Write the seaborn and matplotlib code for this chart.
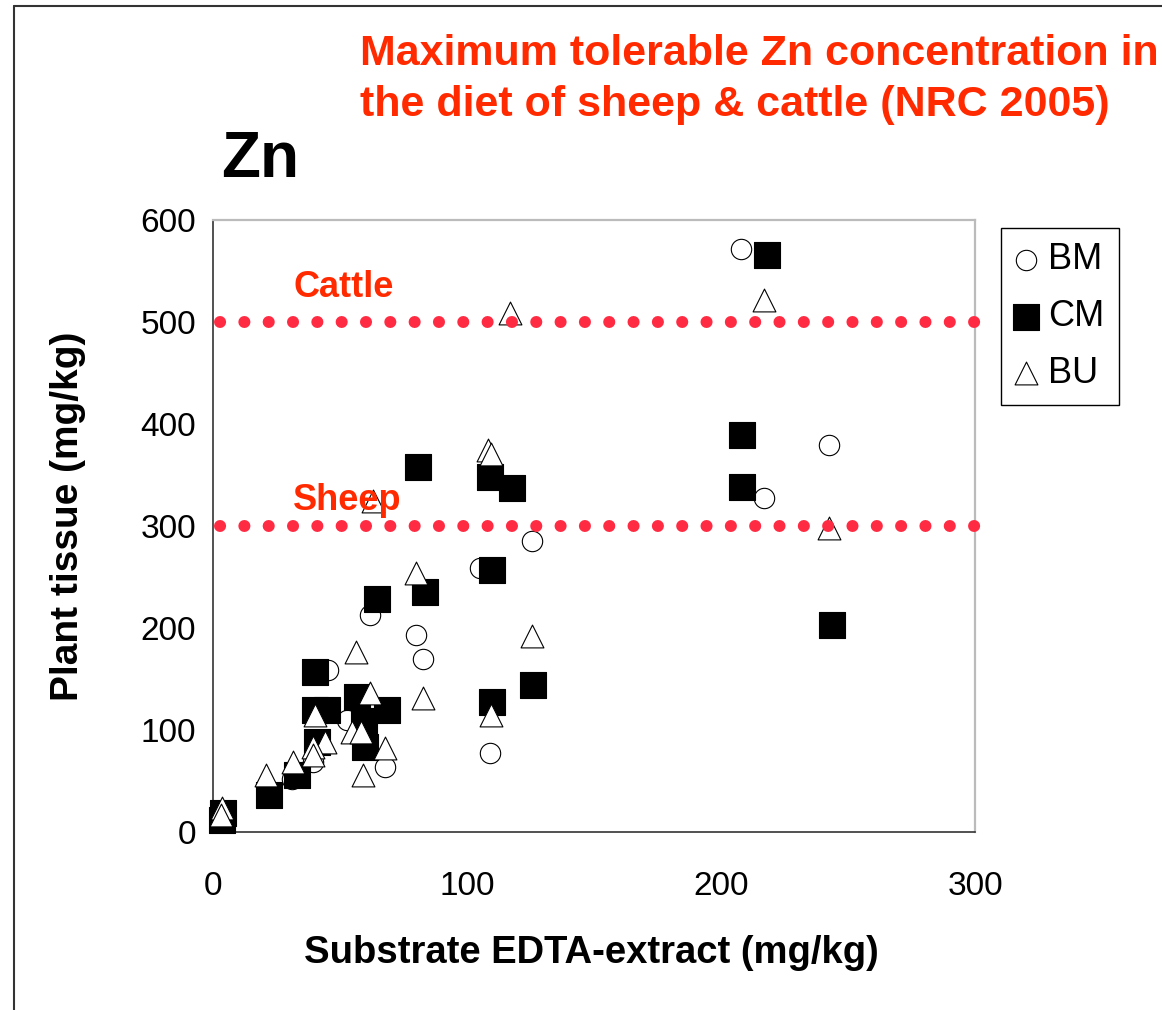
import matplotlib
matplotlib.use("Agg")
import matplotlib.pyplot as plt
import seaborn as sns
import pandas as pd
from matplotlib.lines import Line2D

# ---------------- data ----------------
bm_x = [207.8, 217, 242.6, 125.5, 105, 62, 80, 82.8, 45.4, 52.9, 109, 67.7, 39.5, 31]
bm_y = [572, 327, 379, 285, 259, 213, 193, 170, 159, 110, 77, 64, 69, 52]

cm_x = [218, 208.4, 208.4, 243.6, 80.9, 109, 117.8, 110, 64.6, 83.5, 40.2, 126, 110,
        56.6, 68.7, 59.4, 60, 40.2, 45, 40.8, 33, 22, 3.9, 3.5]
cm_y = [566, 389, 338.5, 203, 358, 348, 337, 257, 228, 235, 157, 144, 127,
        132, 120, 109, 83, 120, 120, 88.5, 56, 36, 19, 12]

bu_x = [217, 117, 108.4, 109.3, 63, 242.6, 80, 125.5, 56.3, 61.8, 82.8, 109.3, 40.2,
        54.6, 58.1, 44, 39.5, 39.5, 67.7, 59, 31.6, 21, 3.5, 3]
bu_y = [521.6, 509, 374.5, 371, 325, 298, 254, 192, 176, 136, 131, 115, 115,
        98, 98, 88.5, 83.6, 75.5, 82, 56, 69, 56, 24, 17]

limit_names = ["Cattle", "Sheep"]
limit_values = [500, 300]
limit_x = [2.7, 300]

x_ticks = [0, 100, 200, 300]
y_ticks = [0, 100, 200, 300, 400, 500, 600]

title_lines = ["Maximum tolerable Zn concentration in",
               "the diet of sheep & cattle (NRC 2005)"]

# ---------------- style ----------------
sns.set_style("white")
plt.rcParams["font.family"] = ["Liberation Sans", "DejaVu Sans"]
plt.rcParams["text.color"] = "black"
plt.rcParams["axes.labelcolor"] = "black"
plt.rcParams["xtick.color"] = "black"
plt.rcParams["ytick.color"] = "black"

RED_TXT = "#FF2A00"
RED_DOT = "#FF2B42"

W, H = 1162, 1010
fig = plt.figure(figsize=(W / 100, H / 100), dpi=100)
ax = fig.add_axes([213 / W, 1 - 832 / H, 762 / W, 612 / H])

series = [
    ("BM", bm_x, bm_y, "o", 215, "white"),
    ("CM", cm_x, cm_y, "s", 330, "black"),
    ("BU", bu_x, bu_y, "^", 270, "white"),
]
for i, (name, xs, ys, mk, sz, fc) in enumerate(series):
    df = pd.DataFrame({"x": xs, "y": ys})
    sns.scatterplot(data=df, x="x", y="y", marker=mk, s=sz, color=fc,
                    edgecolor="black", linewidth=0.8, label=name, ax=ax,
                    zorder=3 + i, clip_on=False)

# dotted limit lines
for name, val in zip(limit_names, limit_values):
    ax.plot(limit_x, [val, val], color=RED_DOT, lw=8.64,
            linestyle=(0, (0.01, 2.017)), dash_capstyle="round",
            zorder=8, clip_on=False)

ax.text(31.5, 524.8, "Cattle", color=RED_TXT, fontsize=26, fontweight="bold",
        ha="left", va="baseline", zorder=9)
ax.text(31.5, 315.7, "Sheep", color=RED_TXT, fontsize=26, fontweight="bold",
        ha="left", va="baseline", zorder=9)

ax.set_xlim(0, 300)
ax.set_ylim(0, 600)
ax.set_xticks(x_ticks)
ax.set_yticks(y_ticks)
ax.set_xticklabels([str(t) for t in x_ticks])
ax.set_yticklabels([str(t) for t in y_ticks])
ax.tick_params(axis="both", direction="out", length=8, width=1, color="#333333",
               labelsize=24, labelcolor="black")
ax.tick_params(axis="x", pad=20)
ax.tick_params(axis="y", pad=4)

for side in ["left", "bottom"]:
    ax.spines[side].set_color("#333333")
    ax.spines[side].set_linewidth(1.2)
for side in ["top", "right"]:
    ax.spines[side].set_color("#BBBBBB")
    ax.spines[side].set_linewidth(1.6)

ax.set_xlabel("Substrate EDTA-extract (mg/kg)", fontsize=27.5, fontweight="bold",
              va="center", color="black")
ax.xaxis.set_label_coords(0.496, -0.198)
ax.set_ylabel("Plant tissue (mg/kg)", fontsize=28, fontweight="bold", va="center",
              color="black")
ax.yaxis.set_label_coords(-0.19, 0.516)

leg = ax.legend(loc="upper left", bbox_to_anchor=((1001 - 213) / 762, (832 - 228) / 612),
                borderaxespad=0, fontsize=26, frameon=True, fancybox=False,
                framealpha=1, edgecolor="black", borderpad=0.4, labelspacing=0.6,
                handlelength=0.6, handletextpad=0.3, scatterpoints=1)
leg.get_frame().set_linewidth(1.0)
for t in leg.get_texts():
    t.set_color("black")

# titles
fig.text(360 / W, 1 - 65 / H, title_lines[0], color=RED_TXT, fontsize=31,
         fontweight="bold", ha="left", va="baseline")
fig.text(360 / W, 1 - 116 / H, title_lines[1], color=RED_TXT, fontsize=31,
         fontweight="bold", ha="left", va="baseline")
fig.text(221 / W, 1 - 177 / H, "Zn", color="black", fontsize=46,
         fontweight="bold", ha="left", va="baseline")

# slide border
fig.add_artist(Line2D([14 / W, 1.0], [1 - 6 / H, 1 - 6 / H], color="#333333", lw=1.5))
fig.add_artist(Line2D([14 / W, 14 / W], [1 - 6 / H, 0.0], color="#333333", lw=1.5))

fig.savefig("out.png", dpi=100)
